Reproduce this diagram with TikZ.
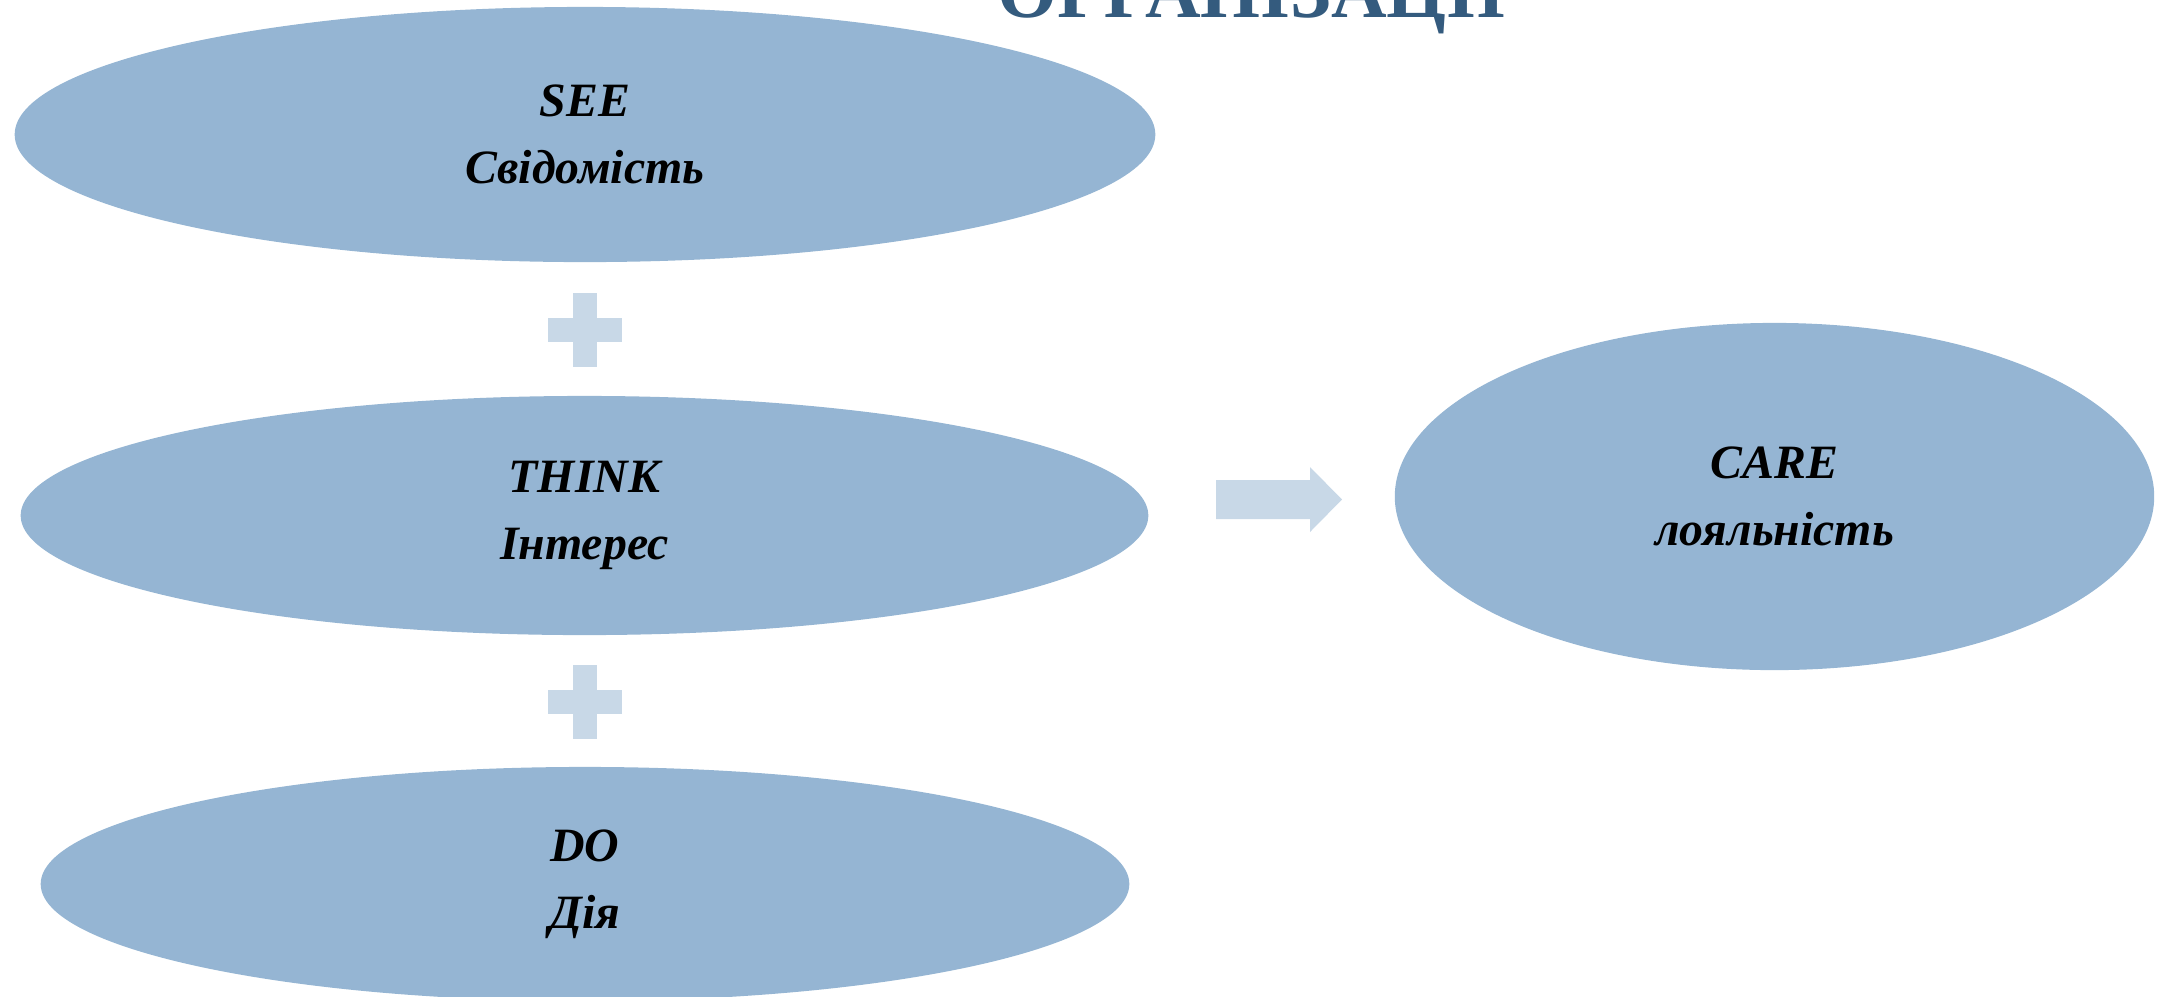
\documentclass[tikz,border=0pt]{standalone}
\usepackage{fontspec}
\setmainfont{Liberation Serif}
\usetikzlibrary{shapes.geometric}
\definecolor{ellfill}{RGB}{149,181,211}
\definecolor{lightfill}{RGB}{200,216,231}
\definecolor{titleblue}{RGB}{52,91,126}
\tikzset{
  stage/.style={ellipse, fill=ellfill, draw=none, inner sep=0pt, align=center,
    font=\fontsize{13.6pt}{19pt}\selectfont\bfseries\itshape},
  plussign/.pic={
    \fill[lightfill] (-12,-37) rectangle (12,37);
    \fill[lightfill] (-37,-12) rectangle (37,12);
  }
}
\begin{document}
\begin{tikzpicture}[x=0.01cm,y=-0.01cm]
\useasboundingbox (0,0) rectangle (2166,996);
\clip (0,0) rectangle (2166,996);
\node[anchor=base, text=titleblue, inner sep=0pt,
  font=\fontsize{21.9pt}{26pt}\selectfont\bfseries] (title) at (1252,17) {ОРГАНІЗАЦІЇ};
\node[stage, minimum width=11.40cm, minimum height=2.55cm] (see) at (585,134.5) {SEE\\Свідомість};
\node[stage, minimum width=11.27cm, minimum height=2.39cm] (think) at (584.5,515.5) {THINK\\Інтерес};
\node[stage, minimum width=10.88cm, minimum height=2.34cm] (do) at (585,884) {DO\\Дія};
\node[stage, minimum width=7.59cm, minimum height=3.47cm] (care) at (1774.5,496.5) {CARE\\лояльність};
\pic at (585,330) {plussign};
\pic at (585,701.5) {plussign};
\fill[lightfill] (1216,480) -- (1310,480) -- (1310,467) -- (1342,499.5) -- (1310,532) -- (1310,519) -- (1216,519) -- cycle;
\end{tikzpicture}
\end{document}
